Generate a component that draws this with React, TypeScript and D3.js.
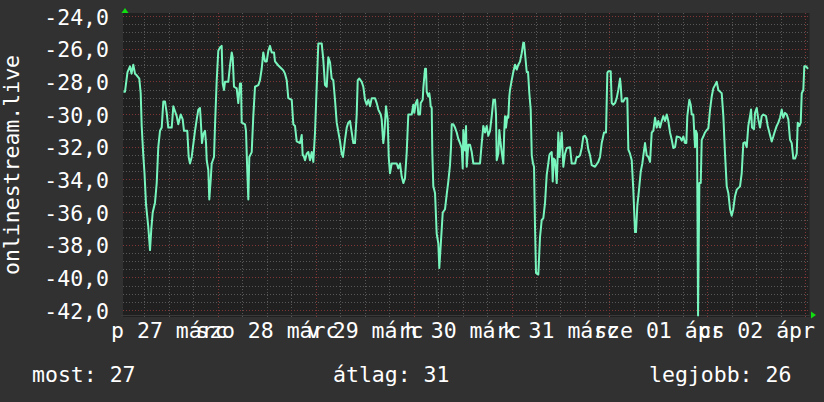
import React from "react";
import * as d3 from "d3";

// ---- data (hours since 27 March 00:00, value) ----
const HOURS = [
  0.76, 1.13, 1.74, 2.35, 2.72, 3.16, 3.58, 4.0, 4.63, 4.98, 5.22, 5.61, 5.91, 6.28, 6.84, 7.26, 7.58, 7.92, 8.48, 8.9,
  9.29, 9.71, 10.13, 10.52, 10.93, 11.35, 11.74, 12.58, 12.97, 13.39, 13.8, 14.19, 14.78, 15.27, 15.59, 16.4, 16.74, 17.06, 17.48, 18.29,
  18.71, 19.1, 19.51, 19.69, 20.0, 20.32, 20.74, 20.99, 21.16, 21.55, 21.79, 22.14, 22.38, 22.95, 23.19, 23.61, 24.0, 24.42, 24.83, 25.08,
  25.4, 25.64, 26.45, 26.87, 27.29, 27.53, 27.85, 28.51, 28.9, 29.32, 29.57, 29.74, 30.55, 30.79, 31.04, 31.36, 31.6, 32.19, 32.58, 33.0,
  33.81, 34.22, 34.64, 35.03, 35.45, 35.87, 36.26, 36.68, 37.09, 37.66, 37.9, 38.71, 39.54, 39.94, 40.35, 40.77, 41.16, 42.0, 42.39, 42.8,
  43.22, 44.03, 44.45, 44.69, 44.89, 45.26, 45.67, 46.07, 46.48, 46.9, 47.29, 47.71, 48.12, 48.52, 49.35, 49.74, 50.16, 50.58, 50.97, 51.39,
  51.8, 52.19, 52.61, 53.03, 53.84, 54.25, 54.57, 55.06, 55.48, 55.87, 56.29, 56.71, 57.1, 57.51, 57.93, 58.18, 58.57, 59.16, 59.55, 59.97,
  60.38, 60.78, 61.19, 61.61, 62.42, 62.83, 63.23, 63.82, 64.06, 64.31, 64.45, 64.7, 65.11, 65.53, 65.78, 66.09, 66.51, 67.74, 68.13, 68.55,
  68.96, 69.36, 69.77, 70.19, 70.58, 71.41, 71.81, 72.05, 72.4, 72.79, 73.03, 73.45, 73.62, 74.11, 74.26, 74.43, 74.68, 74.92, 75.09, 75.48,
  75.73, 75.9, 76.07, 76.32, 76.47, 76.71, 77.13, 77.54, 77.94, 78.18, 78.53, 79.02, 79.58, 79.99, 80.39, 80.8, 81.05, 81.22, 81.61, 82.03,
  82.45, 82.84, 83.26, 83.67, 83.92, 84.07, 84.48, 84.73, 84.9, 85.29, 85.71, 86.13, 86.52, 87.35, 88.16, 88.58, 88.97, 89.39, 89.8, 90.19,
  90.61, 91.03, 91.42, 91.84, 92.08, 92.25, 92.65, 92.89, 93.14, 93.48, 93.87, 94.09, 94.29, 94.53, 94.85, 95.1, 95.34, 95.51, 95.93, 96.32,
  96.74, 97.16, 97.55, 97.97, 98.38, 98.77, 98.95, 99.19, 99.61, 99.93, 100.25, 100.59, 100.84, 101.15, 101.4, 101.64, 101.89, 102.45, 102.87, 103.29,
  103.68, 104.1, 104.51, 104.9, 105.15, 105.32, 105.74, 105.98, 106.23, 106.55, 106.96, 107.21, 107.36, 107.65, 108.19, 108.58, 109.0, 109.42, 110.22, 110.64,
  111.45, 111.87, 112.26, 112.68, 113.09, 113.48, 113.9, 114.32, 114.71, 115.13, 115.54, 116.35, 117.16, 117.58, 117.99, 118.56, 119.05, 119.37, 119.61, 120.2,
  120.45, 120.84, 121.26, 121.67, 122.06, 122.48, 122.65, 122.9, 123.29, 123.71, 124.27, 124.52, 124.93, 125.35, 125.74, 126.16, 126.4, 126.72, 127.14, 127.56,
  127.95, 128.37, 128.61, 129.03, 129.42, 129.84, 130.25, 130.65, 131.06, 131.48, 131.87, 132.29, 132.7, 133.1, 133.51, 133.93, 134.32, 134.74, 135.16, 135.55,
  135.97, 136.38, 137.19, 137.61, 138.0, 138.42, 138.74, 138.98, 139.47, 139.81, 140.06, 140.45, 140.87, 141.11, 141.36, 141.61, 141.93, 142.27, 142.51, 142.9,
  143.32, 143.74, 144.13, 144.55, 144.96, 145.35, 145.77, 146.19, 146.58, 147.0, 147.41, 147.81, 148.22, 148.64, 149.03, 149.45, 149.86, 150.25, 150.67, 151.09,
  151.9, 152.31, 152.71, 153.12, 153.54, 153.93, 154.35, 154.6, 154.84, 155.33, 155.58, 155.99, 156.39, 156.8, 157.22, 157.61, 158.27, 158.69, 159.25, 159.67,
  160.06, 160.48, 160.89, 161.29, 161.7, 162.12, 162.51, 162.93, 163.35, 163.74, 164.16, 164.57, 164.97, 165.38, 165.8, 166.04, 166.44, 166.78, 167.03, 167.42,
  167.66, 168.08, 168.57,
];

const VALUES = [
  -28.6, -28.6, -27.4, -27.05, -27.5, -26.95, -27.5, -27.6, -27.8, -28.7, -30.7, -32.5, -33.6, -35.5, -36.9, -38.3, -37.0, -36.0, -35.4, -34.2,
  -32.0, -31.0, -30.8, -29.2, -29.2, -29.9, -30.8, -30.8, -29.5, -29.8, -30.1, -30.6, -30.0, -30.3, -31.0, -31.0, -32.6, -33.0, -32.6, -31.0,
  -30.3, -29.7, -29.6, -30.3, -31.75, -31.2, -31.0, -31.75, -32.8, -33.4, -35.2, -34.0, -33.0, -32.6, -30.7, -27.9, -26.1, -25.9, -25.8, -28.1,
  -28.5, -28.0, -28.0, -27.0, -26.2, -26.5, -28.3, -28.4, -29.3, -28.1, -28.1, -30.5, -30.6, -31.0, -33.0, -35.2, -32.6, -32.3, -30.1, -28.3,
  -28.2, -27.9, -27.2, -26.2, -26.75, -26.75, -26.1, -25.8, -26.2, -26.2, -26.75, -27.0, -27.2, -27.3, -27.5, -27.9, -29.0, -29.1, -30.6, -30.7,
  -31.65, -31.75, -31.25, -32.5, -32.5, -32.8, -32.4, -32.3, -32.8, -32.3, -32.9, -31.1, -28.3, -25.65, -25.65, -26.65, -28.2, -28.3, -26.5, -26.8,
  -27.8, -27.9, -29.1, -30.5, -31.65, -32.4, -32.6, -31.55, -30.8, -30.5, -30.4, -31.1, -31.75, -31.75, -30.0, -27.9, -27.8, -28.0, -28.3, -29.1,
  -29.4, -29.1, -29.5, -29.0, -29.0, -29.3, -29.7, -30.0, -30.3, -31.3, -31.75, -31.2, -29.5, -30.3, -32.6, -33.6, -33.0, -33.0, -33.3, -33.0,
  -33.8, -34.2, -33.9, -32.3, -30.0, -30.0, -29.4, -29.9, -29.3, -29.1, -30.0, -30.0, -29.3, -29.1, -28.4, -27.9, -27.2, -27.2, -28.6, -28.9,
  -28.7, -29.0, -29.5, -29.6, -32.4, -34.4, -34.8, -37.3, -37.9, -39.4, -38.0, -36.0, -35.8, -34.9, -34.1, -33.1, -32.0, -30.6, -30.6, -30.8,
  -31.1, -31.5, -31.75, -32.05, -33.3, -30.95, -32.2, -30.7, -33.2, -31.85, -31.85, -32.3, -33.0, -33.0, -33.0, -31.75, -30.7, -31.1, -30.7, -31.3,
  -31.0, -30.1, -29.1, -29.1, -30.0, -32.8, -32.4, -30.95, -31.6, -32.3, -33.0, -31.1, -30.1, -30.8, -30.1, -30.2, -28.9, -28.5, -27.9, -27.4,
  -26.95, -27.25, -26.95, -26.75, -26.25, -25.6, -25.6, -26.25, -27.4, -27.4, -28.7, -29.7, -32.5, -33.0, -33.2, -36.85, -39.7, -39.8, -37.5, -36.45,
  -36.35, -35.4, -33.7, -33.0, -32.5, -32.4, -32.3, -34.1, -32.7, -32.8, -34.2, -32.5, -31.1, -32.6, -31.1, -33.2, -32.4, -32.05, -32.0, -33.0,
  -33.0, -32.6, -32.6, -32.5, -32.05, -31.35, -31.3, -31.5, -32.15, -32.5, -33.1, -33.2, -32.9, -32.6, -31.75, -31.1, -31.1, -27.45, -27.35, -27.35,
  -29.3, -29.4, -29.3, -29.0, -28.5, -27.8, -28.2, -29.2, -29.2, -29.0, -29.0, -32.15, -32.4, -32.8, -34.6, -37.2, -37.2, -35.6, -34.6, -33.5,
  -33.0, -32.2, -31.75, -32.5, -32.6, -32.9, -31.1, -31.0, -30.2, -30.8, -30.4, -30.8, -30.4, -30.1, -30.4, -30.0, -30.4, -31.1, -31.55, -32.05,
  -32.0, -31.35, -31.4, -31.6, -31.35, -31.75, -31.75, -30.1, -29.1, -29.4, -30.0, -30.0, -32.0, -31.0, -31.2, -42.3, -34.2, -34.2, -31.55, -31.35,
  -31.1, -30.95, -30.85, -29.7, -28.9, -28.4, -28.2, -28.0, -28.5, -28.6, -28.7, -30.1, -32.4, -34.4, -34.8, -35.8, -36.2, -35.8, -35.0, -34.6,
  -34.4, -33.6, -31.75, -31.7, -32.0, -30.7, -30.1, -29.7, -30.8, -30.9, -29.9, -29.6, -30.3, -30.8, -30.1, -30.0, -30.1, -30.7, -31.25, -31.65,
  -31.35, -31.0, -30.7, -30.5, -30.2, -29.7, -30.2, -29.9, -30.0, -30.3, -31.55, -31.75, -32.7, -32.7, -32.4, -30.5, -30.7, -30.5, -28.7, -28.5,
  -27.05, -27.05, -27.2,
];

const Y_TICKS = [-42, -40, -38, -36, -34, -32, -30, -28, -26, -24];
const DAY_LABELS = ["p 27 márc", "szo 28 márc", "v 29 márc", "h 30 márc", "k 31 márc", "sze 01 ápr", "cs 02 ápr"];
const LABEL_HOURS = [12, 36, 60, 84, 108, 132, 156];
const LEGEND_NAMES = ["most", "átlag", "legjobb"];
const LEGEND_VALUES = [27, 31, 26];
const TITLE = "onlinestream.live";

// ---- layout ----
const W = 824;
const H = 402;
const CANVAS = { left: 123, right: 809.5, top: 13, bottom: 317 };
const FONT = "'DejaVu Sans Mono', monospace";
const FS = 21.5;

const fmt = d3.formatLocale({ decimal: ",", thousands: " ", grouping: [3], currency: ["", ""], minus: "-" }).format(".1f");

export default function App() {
  const x = d3.scaleLinear().domain([0, 168]).range([120.4, 805.7]);
  const y = d3.scaleLinear().domain([-42, -24]).range([310.5, 16.5]);
  const px = (v: number) => Math.floor(x(v)) + 0.5;
  const py = (v: number) => Math.round(y(v) - 0.5) + 0.5;

  const hGrid = d3.range(-42, -23.99, 0.5);
  const vGrid = d3.range(0, 169, 6).filter((h) => x(h) > CANVAS.left && x(h) < CANVAS.right);

  const data = HOURS.map((h, i) => [h, VALUES[i]] as [number, number]);
  const line = d3
    .line<[number, number]>()
    .x((d) => x(d[0]))
    .y((d) => y(d[1]));

  const axisY = 315.5;
  const axisX = 125;

  return (
    <svg
      width={W}
      height={H}
      viewBox={`0 0 ${W} ${H}`}
      style={{ position: "fixed", left: 0, top: 0, display: "block" }}
    >
      <defs>
        <clipPath id="plotclip">
          <rect x={CANVAS.left} y={CANVAS.top} width={CANVAS.right - CANVAS.left} height={CANVAS.bottom - CANVAS.top} />
        </clipPath>
      </defs>
      <rect x={0} y={0} width={W} height={H} fill="#313131" />
      <rect
        x={CANVAS.left}
        y={CANVAS.top}
        width={CANVAS.right - CANVAS.left}
        height={CANVAS.bottom - CANVAS.top}
        fill="#202020"
      />
      {/* minor grid */}
      <g stroke="#575757" strokeWidth={1} strokeDasharray="1,2" shapeRendering="crispEdges">
        {hGrid
          .filter((v) => Math.abs(v % 2) > 0.01)
          .map((v) => (
            <line key={"h" + v} x1={CANVAS.left} x2={CANVAS.right} y1={py(v)} y2={py(v)} />
          ))}
        {vGrid
          .filter((h) => h % 24 !== 0)
          .map((h) => (
            <line key={"v" + h} x1={px(h)} x2={px(h)} y1={CANVAS.top} y2={CANVAS.bottom} />
          ))}
      </g>
      {/* major grid */}
      <g stroke="#803636" strokeWidth={1} strokeDasharray="1,2" shapeRendering="crispEdges">
        {Y_TICKS.map((v) => (
          <line key={"H" + v} x1={CANVAS.left} x2={CANVAS.right} y1={py(v)} y2={py(v)} />
        ))}
        {vGrid
          .filter((h) => h % 24 === 0)
          .map((h) => (
            <line key={"V" + h} x1={px(h)} x2={px(h)} y1={CANVAS.top} y2={CANVAS.bottom} />
          ))}
      </g>
      {/* axis */}
      <line x1={CANVAS.left - 2} x2={CANVAS.right} y1={axisY} y2={axisY} stroke="#3a3a3a" strokeWidth={1} />
      <polygon
        points={`${axisX},${CANVAS.top - 5} ${axisX - 3.5},${CANVAS.top} ${axisX + 3.5},${CANVAS.top}`}
        fill="#11dd11"
      />
      <polygon
        points={`${CANVAS.right + 6.5},${axisY - 0.5} ${CANVAS.right + 1.5},${axisY - 4} ${CANVAS.right + 1.5},${axisY + 3}`}
        fill="#11dd11"
      />
      {/* data line */}
      <path
        d={line(data) || ""}
        fill="none"
        stroke="#78f5bd"
        strokeWidth={2}
        strokeLinejoin="round"
        clipPath="url(#plotclip)"
      />
      {/* y labels */}
      <g fontFamily={FONT} fontSize={FS} fill="#ffffff" textAnchor="end">
        {Y_TICKS.map((v) => (
          <text key={"yl" + v} x={109} y={y(v) + 8}>
            {fmt(v)}
          </text>
        ))}
      </g>
      {/* x labels */}
      <g fontFamily={FONT} fontSize={FS} fill="#ffffff" textAnchor="middle">
        {DAY_LABELS.map((t, i) => (
          <text key={"xl" + i} x={x(LABEL_HOURS[i])} y={337.5} style={{ whiteSpace: "pre" }}>
            {t}
          </text>
        ))}
      </g>
      {/* title */}
      <text
        x={0}
        y={0}
        transform={`translate(19,${(CANVAS.top + CANVAS.bottom) / 2}) rotate(-90)`}
        fontFamily={FONT}
        fontSize={FS}
        fill="#ffffff"
        textAnchor="middle"
      >
        {TITLE}
      </text>
      {/* legend */}
      <g fontFamily={FONT} fontSize={FS} fill="#ffffff">
        {LEGEND_NAMES.map((n, i) => (
          <text key={"lg" + i} x={[32, 333, 649][i]} y={381.5} style={{ whiteSpace: "pre" }}>
            {`${n}: ${LEGEND_VALUES[i]}`}
          </text>
        ))}
      </g>
    </svg>
  );
}
